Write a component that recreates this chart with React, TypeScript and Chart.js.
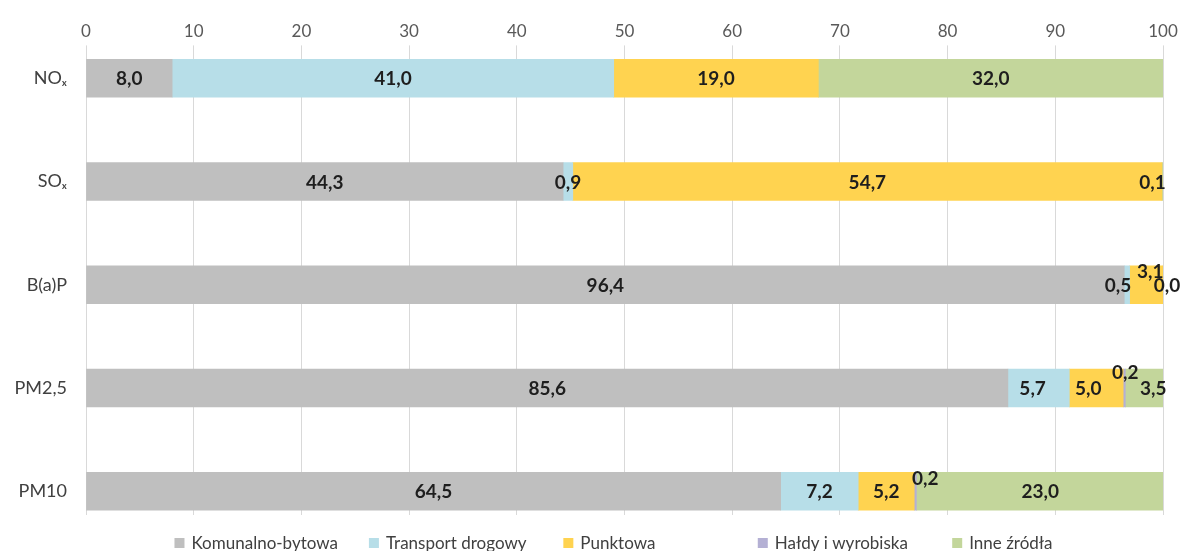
import React, { useEffect, useRef } from 'react';
import { Chart, registerables } from 'chart.js';

Chart.register(...registerables);

// ---- data ----
const categories = ['NOₓ', 'SOₓ', 'B(a)P', 'PM2,5', 'PM10'];
const seriesNames = ['Komunalno-bytowa', 'Transport drogowy', 'Punktowa', 'Hałdy i wyrobiska', 'Inne źródła'];
const komunalno = [8.0, 44.3, 96.4, 85.6, 64.5];
const transport = [41.0, 0.9, 0.5, 5.7, 7.2];
const punktowa = [19.0, 54.7, 3.1, 5.0, 5.2];
const haldy: (number | null)[] = [null, null, null, 0.2, 0.2];
const inne = [32.0, 0.1, 0.0, 3.5, 23.0];
const xMin = 0;
const xMax = 100;
const xStep = 10;

// ---- style ----
const seriesColors = ['#BFBFBF', '#B7DEE8', '#FFD350', '#B4B0D4', '#C3D69B'];
const FONT = 'Lato, "Open Sans", sans-serif';
// label nudges (dx, dy) for crowded labels, like manually moved Excel labels
const labelNudge: Record<string, [number, number]> = {
  '4-1': [-10, 0],
  '1-2': [-9, 0],
  '2-2': [4, -14],
  '4-2': [4, 0],
  '1-3': [-6, 0],
  '2-3': [-8, 0],
  '3-3': [1, -16],
  '4-3': [9, 0],
  '3-4': [10, -13],
};

const allSeries = [komunalno, transport, punktowa, haldy, inne];

const dataLabelPlugin = {
  id: 'dataLabels',
  afterDatasetsDraw(chart: any) {
    const ctx = chart.ctx;
    ctx.save();
    ctx.font = `bold 19px ${FONT}`;
    ctx.fillStyle = '#1e1e1e';
    ctx.textAlign = 'center';
    ctx.textBaseline = 'middle';
    chart.data.datasets.forEach((ds: any, i: number) => {
      const meta = chart.getDatasetMeta(i);
      meta.data.forEach((bar: any, j: number) => {
        const raw = ds.data[j];
        if (!raw || raw.x === null || raw.x === undefined) return;
        const p = bar.getProps(['x', 'y', 'base'], true);
        const nudge = labelNudge[`${i}-${j}`] || [0, 0];
        const cx = (p.x + p.base) / 2 + nudge[0];
        const cy = p.y + nudge[1] + 1;
        ctx.fillText(raw.x.toFixed(1).replace('.', ','), cx, cy);
      });
    });
    ctx.restore();
  },
};

const bottomLegendPlugin = {
  id: 'bottomLegend',
  afterDraw(chart: any) {
    const ctx = chart.ctx;
    const area = chart.chartArea;
    ctx.save();
    ctx.font = `17px ${FONT}`;
    const box = 10;
    const boxGap = 7;
    const widths = chart.data.datasets.map((d: any) => box + boxGap + ctx.measureText(d.label).width);
    const slot = Math.max(...widths) + 31;
    const n = widths.length;
    const total = slot * (n - 1) + widths[n - 1];
    let x = (area.left + area.right) / 2 - total / 2 - 11;
    const y = 535;
    ctx.textBaseline = 'middle';
    ctx.textAlign = 'left';
    chart.data.datasets.forEach((d: any) => {
      ctx.fillStyle = d.backgroundColor;
      ctx.fillRect(x, y - box / 2, box, box);
      ctx.fillStyle = '#404040';
      ctx.fillText(d.label, x + box + boxGap, y + 1);
      x += slot;
    });
    ctx.restore();
  },
};

export default function App() {
  const canvasRef = useRef<HTMLCanvasElement | null>(null);

  useEffect(() => {
    document.body.style.overflow = 'hidden';
    const canvas = canvasRef.current;
    if (!canvas) return;
    const datasets = allSeries.map((values, i) => ({
      label: seriesNames[i],
      data: values.map((v, idx) => ({ x: v, y: idx })),
      backgroundColor: seriesColors[i],
      borderWidth: 0,
      barThickness: 38,
    }));
    const chart = new Chart(canvas, {
      type: 'bar',
      data: { datasets },
      options: {
        indexAxis: 'y',
        responsive: false,
        animation: false,
        layout: { padding: { left: 0, right: 26, top: 9, bottom: 46 } },
        plugins: {
          legend: { display: false },
          tooltip: { enabled: false },
        },
        scales: {
          x: {
            type: 'linear',
            position: 'top',
            min: xMin,
            max: xMax,
            stacked: true,
            ticks: {
              stepSize: xStep,
              font: { family: FONT, size: 17 },
              color: '#595959',
              padding: 4,
            },
            grid: { color: '#d9d9d9', tickLength: 6, lineWidth: 1 },
            border: { display: false },
          },
          y: {
            type: 'linear',
            reverse: true,
            offset: false,
            min: -0.26,
            max: 4.23,
            stacked: true,
            afterBuildTicks: (s: any) => {
              s.ticks = categories.map((_, i) => ({ value: i }));
            },
            afterFit: (s: any) => {
              s.width = 78;
            },
            ticks: {
              callback: (v: any) => categories[v] ?? '',
              font: { family: FONT, size: 18 },
              color: '#404040',
              padding: 19,
            },
            grid: { display: false, drawTicks: false },
            border: { display: false },
          },
        },
      },
      plugins: [dataLabelPlugin, bottomLegendPlugin],
    } as any);
    return () => chart.destroy();
  }, []);

  return (
    <div style={{ height: 543, width: 1181, overflow: 'hidden' }}>
      <canvas ref={canvasRef} width={1181} height={553} style={{ display: 'block' }} />
    </div>
  );
}
